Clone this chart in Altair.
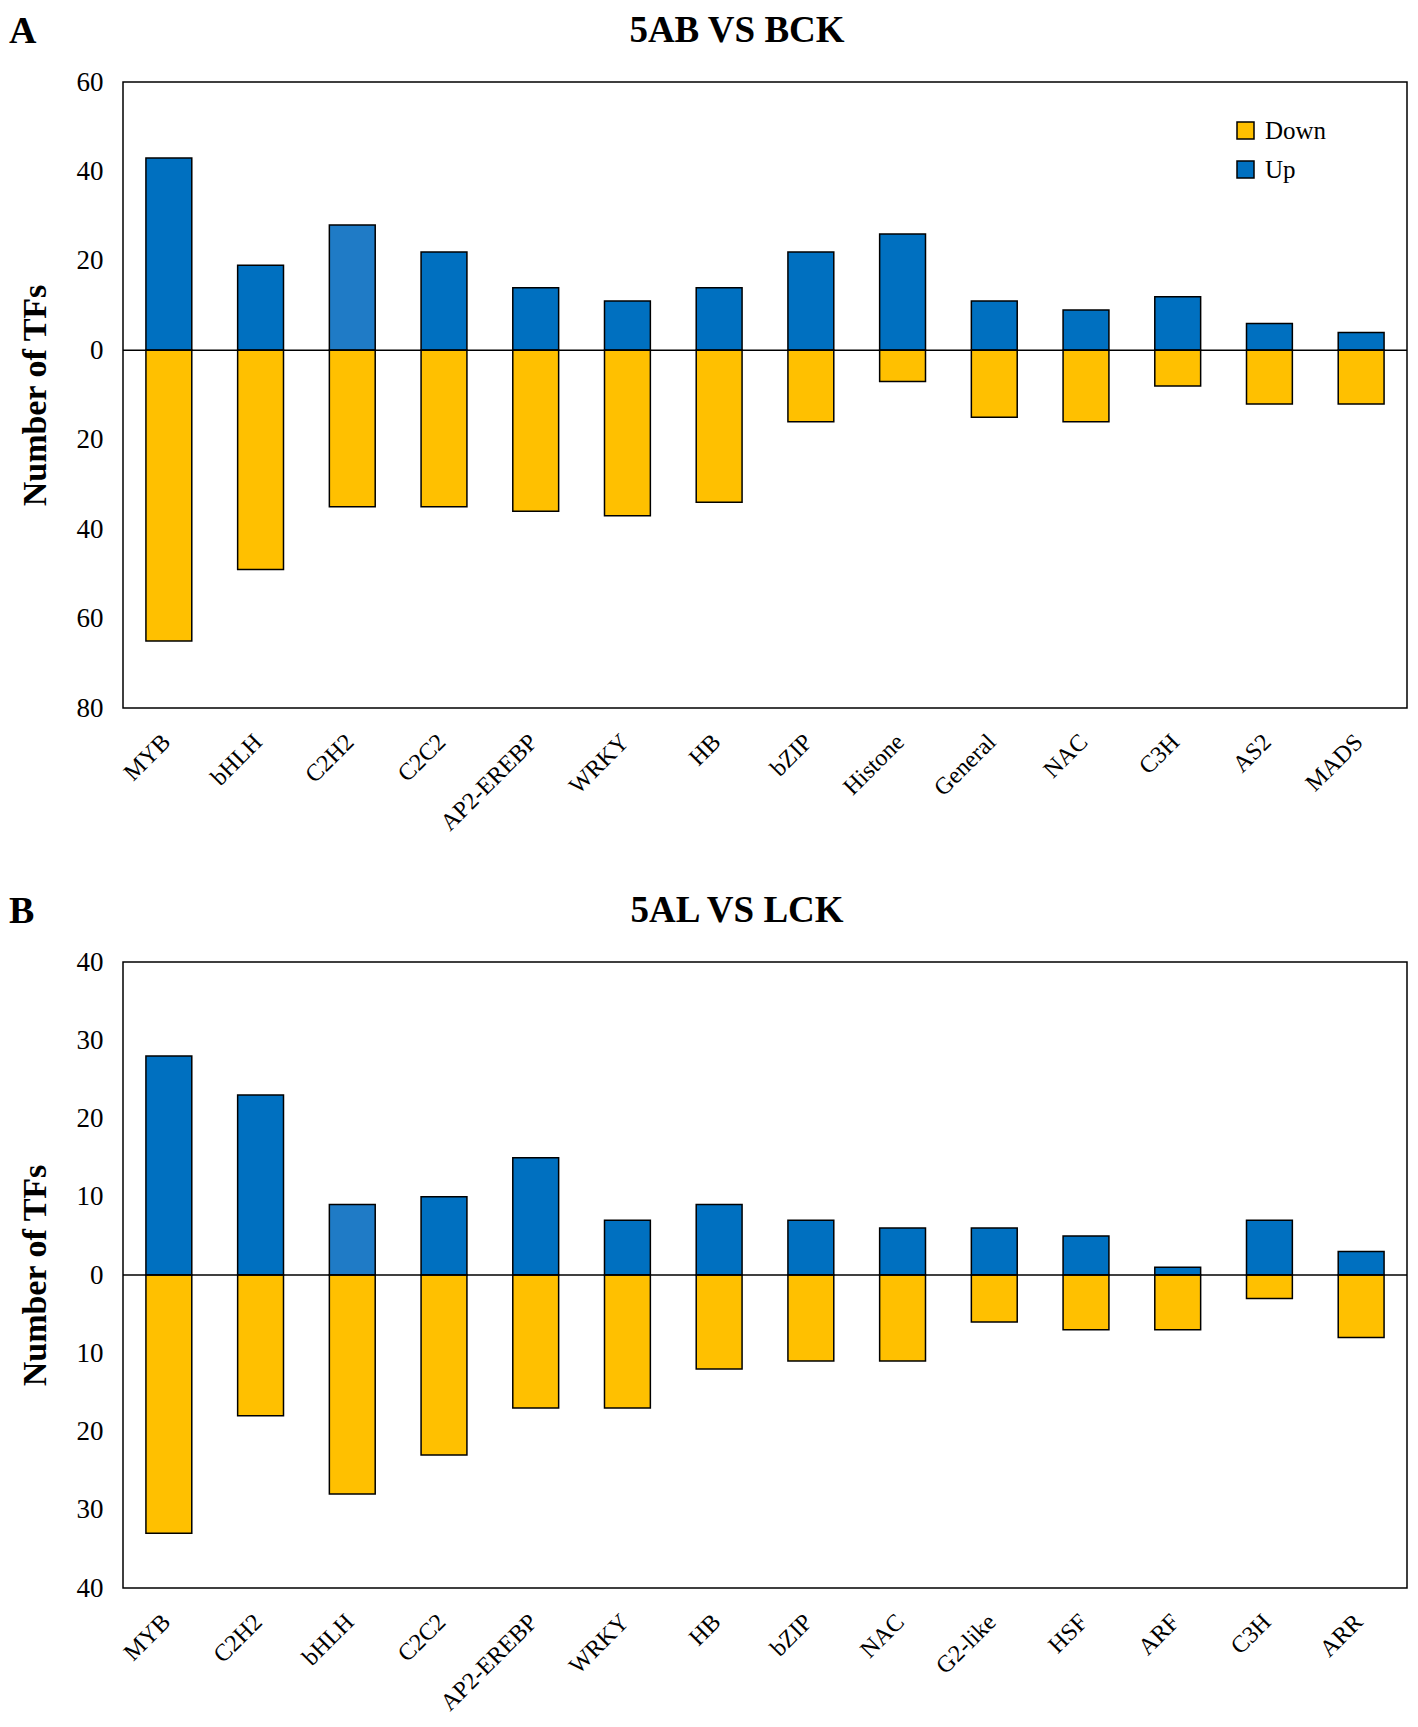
import altair as alt
import pandas as pd

# ---- data ----
cats_a = ["MYB", "bHLH", "C2H2", "C2C2", "AP2-EREBP", "WRKY", "HB", "bZIP",
          "Histone", "General", "NAC", "C3H", "AS2", "MADS"]
up_a = [43, 19, 28, 22, 14, 11, 14, 22, 26, 11, 9, 12, 6, 4]
down_a = [65, 49, 35, 35, 36, 37, 34, 16, 7, 15, 16, 8, 12, 12]
light_a = "C2H2"

cats_b = ["MYB", "C2H2", "bHLH", "C2C2", "AP2-EREBP", "WRKY", "HB", "bZIP",
          "NAC", "G2-like", "HSF", "ARF", "C3H", "ARR"]
up_b = [28, 23, 9, 10, 15, 7, 9, 7, 6, 6, 5, 1, 7, 3]
down_b = [33, 18, 28, 23, 17, 17, 12, 11, 11, 6, 7, 7, 3, 8]
light_b = "bHLH"

FONT = "Liberation Serif"
W = 1284
H = 626


def make_df(cats, ups, downs, light):
    rows = []
    for c, u, d in zip(cats, ups, downs):
        rows.append({"cat": c, "val": u, "series": "Up",
                     "key": "Up2" if c == light else "Up"})
        rows.append({"cat": c, "val": -d, "series": "Down", "key": "Down"})
    return pd.DataFrame(rows)


def panel(cats, ups, downs, light, title, letter, ymin, ymax, step):
    df = make_df(cats, ups, downs, light)
    ticks = list(range(ymin, ymax + 1, step))
    bars = alt.Chart(df).mark_bar(stroke="black", strokeWidth=1.5).encode(
        x=alt.X("cat:N", sort=cats,
                scale=alt.Scale(paddingInner=0.5, paddingOuter=0.25),
                axis=alt.Axis(title=None, labelAngle=-45, labelAlign="right",
                              labelBaseline="middle", labelPadding=30,
                              labelOffset=-2, labelFontSize=24,
                              labelFont=FONT, labelColor="black",
                              labelLimit=300)),
        y=alt.Y("val:Q", stack=None,
                scale=alt.Scale(domain=[ymin, ymax], nice=False),
                axis=alt.Axis(title="Number of TFs", values=ticks,
                              labelExpr="abs(datum.value)",
                              labelFontSize=27, labelFont=FONT,
                              labelColor="black", labelPadding=20,
                              titleFont=FONT, titleFontSize=34,
                              titleFontWeight="bold", titleColor="black",
                              titlePadding=24)),
        color=alt.Color("key:N",
                        scale=alt.Scale(domain=["Down", "Up", "Up2"],
                                        range=["#FFC000", "#0070C0", "#1F7BC6"]),
                        legend=alt.Legend(title=None, values=["Down", "Up"],
                                          orient="none", legendX=1110,
                                          legendY=36, symbolType="square",
                                          symbolSize=289,
                                          symbolStrokeColor="black",
                                          symbolStrokeWidth=1.5,
                                          symbolOpacity=1,
                                          labelFont=FONT, labelFontSize=25,
                                          labelColor="black", labelOffset=7,
                                          rowPadding=13, padding=0)),
    )
    zero = alt.Chart(pd.DataFrame({"z": [0]})).mark_rule(
        color="black", strokeWidth=1.5).encode(y="z:Q")
    lab = alt.Chart(pd.DataFrame({"t": [letter]})).mark_text(
        font=FONT, fontSize=38, fontWeight="bold", align="left",
        baseline="alphabetic", color="black").encode(
        text="t:N", x=alt.value(-114), y=alt.value(-39))
    ttl = alt.Chart(pd.DataFrame({"t": [title]})).mark_text(
        font=FONT, fontSize=37, fontWeight="bold", align="center",
        baseline="alphabetic", color="black").encode(
        text="t:N", x=alt.value(W / 2 - 28), y=alt.value(-40))
    return alt.layer(bars, zero, lab, ttl).properties(width=W, height=H)


pa = panel(cats_a, up_a, down_a, light_a, "5AB VS BCK", "A", -80, 60, 20)
pb = panel(cats_b, up_b, down_b, light_b, "5AL VS LCK", "B", -40, 40, 10)

chart = alt.vconcat(pa, pb, spacing=55).resolve_scale(
    x="independent", y="independent", color="shared"
).configure_view(stroke="black", strokeWidth=1.5).configure_axis(
    grid=False, ticks=False, tickSize=0, domain=False
).properties(padding={"left": 0, "top": 3, "right": 0, "bottom": 0})

chart.save("out.html", embed_options={"renderer": "svg", "actions": False})
